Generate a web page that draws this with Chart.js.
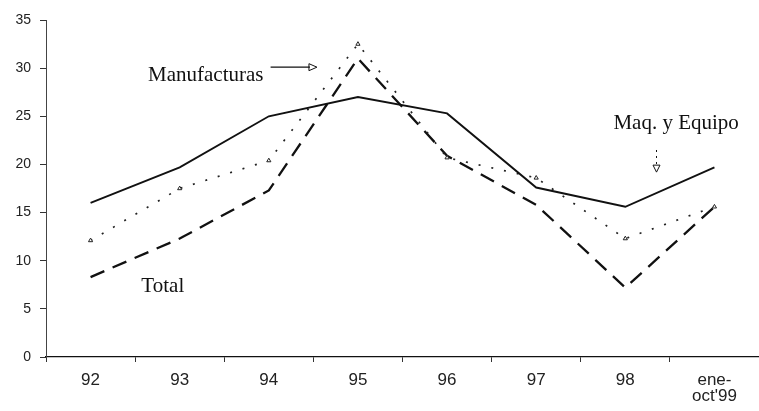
<!DOCTYPE html>
<html>
<head>
<meta charset="utf-8">
<script src="https://cdn.jsdelivr.net/npm/chart.js@4.4.1/dist/chart.umd.min.js"></script>
<style>
  html, body { margin: 0; padding: 0; background: #fff; overflow: hidden; }
  #wrap { width: 759px; height: 411px; position: relative; }
</style>
</head>
<body>
<div id="wrap"><canvas id="c"></canvas></div>
<script>
const categories = ['92', '93', '94', '95', '96', '97', '98', ['ene-', "oct'99"]];
const maqEquipo = [16.0, 19.7, 25.0, 27.0, 25.3, 17.6, 15.6, 19.7];
const manufacturas = [12.1, 17.5, 20.4, 32.5, 20.7, 18.6, 12.3, 15.6];
const total = [8.3, 12.3, 17.3, 31.0, 20.9, 15.8, 7.2, 15.6];
const yTicks = [0, 5, 10, 15, 20, 25, 30, 35];

const annotations = {
  id: 'annotations',
  afterDatasetsDraw(chart) {
    const { ctx, scales: { x, y } } = chart;
    ctx.save();
    ctx.fillStyle = '#111';
    ctx.strokeStyle = '#111';
    ctx.font = '21px "Liberation Serif", "DejaVu Serif", serif';
    ctx.textBaseline = 'middle';
    // Manufacturas label + arrow
    ctx.textAlign = 'right';
    ctx.fillText('Manufacturas', x.getPixelForValue(1.94), y.getPixelForValue(29.2));
    const ax1 = x.getPixelForValue(2.02), ax2 = x.getPixelForValue(2.54), ay = y.getPixelForValue(30.1);
    ctx.lineWidth = 1.3;
    ctx.beginPath(); ctx.moveTo(ax1, ay); ctx.lineTo(ax2 - 7, ay); ctx.stroke();
    ctx.lineWidth = 1;
    ctx.beginPath();
    ctx.moveTo(ax2, ay); ctx.lineTo(ax2 - 8, ay - 3.5); ctx.lineTo(ax2 - 8, ay + 3.5); ctx.closePath(); ctx.stroke();
    // Maq. y Equipo label + arrow
    ctx.textAlign = 'center';
    ctx.fillText('Maq. y Equipo', x.getPixelForValue(6.57), y.getPixelForValue(24.3));
    const vx = x.getPixelForValue(6.35);
    ctx.setLineDash([2, 4]);
    ctx.beginPath(); ctx.moveTo(vx, y.getPixelForValue(21.5)); ctx.lineTo(vx, y.getPixelForValue(20.0)); ctx.stroke();
    ctx.setLineDash([]);
    const ty = y.getPixelForValue(19.2);
    ctx.beginPath(); ctx.moveTo(vx - 3.5, ty - 7); ctx.lineTo(vx + 3.5, ty - 7); ctx.lineTo(vx, ty); ctx.closePath(); ctx.stroke();
    // Total label
    ctx.textAlign = 'left';
    ctx.fillText('Total', x.getPixelForValue(0.57), y.getPixelForValue(7.3));
    ctx.restore();
  }
};

new Chart(document.getElementById('c'), {
  type: 'line',
  data: {
    labels: categories,
    datasets: [
      {
        label: 'Maq. y Equipo',
        data: maqEquipo,
        borderColor: '#111',
        borderWidth: 1.9,
        pointRadius: 0,
        tension: 0,
        fill: false
      },
      {
        label: 'Manufacturas',
        data: manufacturas,
        borderColor: '#222',
        borderWidth: 1.7,
        borderDash: [2, 11],
        pointRadius: 2.4,
        pointStyle: 'triangle',
        pointBackgroundColor: '#fff',
        pointBorderColor: '#222',
        pointBorderWidth: 1,
        tension: 0,
        fill: false
      },
      {
        label: 'Total',
        data: total,
        borderColor: '#111',
        borderWidth: 2.3,
        borderDash: [15, 9],
        pointRadius: 0,
        tension: 0,
        fill: false
      }
    ]
  },
  options: {
    responsive: true,
    maintainAspectRatio: false,
    animation: false,
    devicePixelRatio: 1,
    layout: { autoPadding: false, padding: { top: 20, right: 0, left: 0, bottom: 0 } },
    plugins: {
      legend: { display: false },
      tooltip: { enabled: false }
    },
    scales: {
      x: {
        offset: true,
        afterFit(axis) { axis.height = 54; axis.paddingRight = 0; axis.paddingLeft = 0; },
        grid: {
          display: true,
          drawOnChartArea: false,
          drawTicks: true,
          tickLength: 5,
          color: '#333',
          offset: true
        },
        border: { display: true, color: '#111', width: 1.3 },
        ticks: {
          color: '#222',
          font: { family: '"Liberation Sans", Arial, sans-serif', size: 17, lineHeight: 0.95 },
          padding: 10,
          maxRotation: 0,
          autoSkip: false
        }
      },
      y: {
        min: 0,
        max: 35,
        afterFit(axis) { axis.width = 46; axis.paddingTop = 0; axis.paddingBottom = 0; },
        afterBuildTicks(axis) { axis.ticks = yTicks.map(v => ({ value: v })); },
        grid: {
          display: true,
          drawOnChartArea: false,
          drawTicks: true,
          tickLength: 6,
          color: '#333'
        },
        border: { display: true, color: '#444', width: 1 },
        ticks: {
          color: '#222',
          font: { family: '"Liberation Sans", Arial, sans-serif', size: 14 },
          padding: 9
        }
      }
    }
  },
  plugins: [annotations]
});
</script>
</body>
</html>
